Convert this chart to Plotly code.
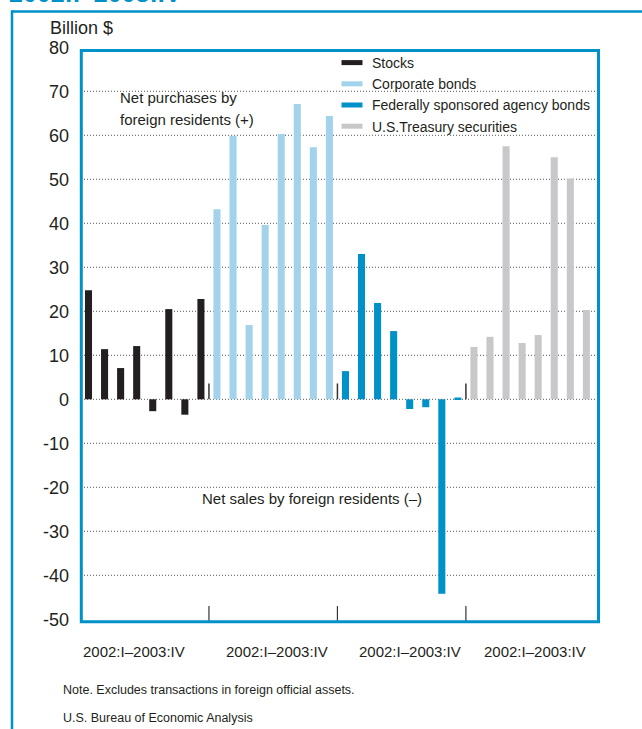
import plotly.graph_objects as go

# Quarterly net purchases of U.S. securities by foreign residents, billion $
quarters = ["2002:I", "2002:II", "2002:III", "2002:IV",
            "2003:I", "2003:II", "2003:III", "2003:IV"]
series_names = ["Stocks", "Corporate bonds",
                "Federally sponsored agency bonds", "U.S.Treasury securities"]
stocks = [24.8, 11.4, 7.1, 12.1, -2.7, 20.5, -3.5, 22.8]
corporate_bonds = [43.2, 59.9, 16.9, 39.6, 60.3, 67.1, 57.3, 64.4]
agency_bonds = [6.4, 33.0, 21.9, 15.5, -2.2, -1.8, -44.2, 0.4]
treasury = [11.9, 14.2, 57.5, 12.8, 14.6, 55.0, 50.2, 20.3]
group_label = "2002:I\u20132003:IV"
y_ticks = [-50, -40, -30, -20, -10, 0, 10, 20, 30, 40, 50, 60, 70, 80]
y_tick_text = ["-50", "-40", "-30", "-20", "-10", "0",
               "10", "20", "30", "40", "50", "60", "70", "80"]
grid_values = [-40, -30, -20, -10, 0, 10, 20, 30, 40, 50, 60, 70]

colors = ["#231f20", "#a2d3eb", "#0091c8", "#c8c8ca"]
BLUE = "#0091c8"
TEXT = "#231f20"
FONT = "Liberation Sans, Arial, sans-serif"

W_FIG, H_FIG = 642, 729
L, R, T, B = 81, 599, 45, 624
PW, PH = R - L, B - T


def px_x(p):
    return (p - L) / PW


def px_y(p):
    return (B - p) / PH


n = len(quarters)
all_series = [stocks, corporate_bonds, agency_bonds, treasury]

fig = go.Figure()
for g, (name, vals, col) in enumerate(zip(series_names, all_series, colors)):
    xs = [g * n + i for i in range(n)]
    fig.add_trace(go.Bar(
        x=xs, y=vals, width=0.44, name=name,
        marker=dict(color=col, line=dict(width=0)),
        customdata=quarters,
        hovertemplate="%{customdata}: %{y}<extra>" + name + "</extra>",
        showlegend=False,
    ))
    # legend entry drawn as a short wide swatch
    fig.add_trace(go.Scatter(
        x=[None], y=[None], mode="markers", name=name,
        marker=dict(symbol="line-ew", size=15, color=col,
                    line=dict(color=col, width=7)),
        showlegend=True, hoverinfo="skip",
    ))

shapes = []
# dotted horizontal gridlines
for v in grid_values:
    shapes.append(dict(type="line", xref="paper", yref="y", x0=0, x1=1,
                       y0=v, y1=v, layer="below",
                       line=dict(color="#555555", width=1, dash="1px,2px")))
# group separators at the zero line and at the bottom of the frame
for g in range(1, len(all_series)):
    xs = g * n - 0.5
    shapes.append(dict(type="line", xref="x", yref="y", x0=xs, x1=xs,
                       y0=0, y1=3.6, line=dict(color="#333333", width=1.5)))
    shapes.append(dict(type="line", xref="x", yref="y", x0=xs, x1=xs,
                       y0=-50.6, y1=-47.0, line=dict(color="#333333", width=1.2)))
# plot frame
shapes.append(dict(type="rect", xref="paper", yref="paper",
                   x0=px_x(81.3), x1=px_x(598.5), y0=px_y(621.8), y1=px_y(50.5),
                   line=dict(color=BLUE, width=3), fillcolor="rgba(0,0,0,0)"))
# outer panel border (top and left edges)
shapes.append(dict(type="line", xref="paper", yref="paper",
                   x0=px_x(12), x1=px_x(660), y0=px_y(11.5), y1=px_y(11.5),
                   line=dict(color=BLUE, width=2.5)))
shapes.append(dict(type="line", xref="paper", yref="paper",
                   x0=px_x(12), x1=px_x(12), y0=px_y(10.3), y1=px_y(740),
                   line=dict(color=BLUE, width=2.5)))

annotations = []
# title line running off the top edge
annotations.append(dict(text="<b>" + group_label + "</b>", xref="paper", yref="paper",
                        x=px_x(7), y=px_y(9.5), xanchor="left", yanchor="bottom",
                        showarrow=False, font=dict(size=25, color=BLUE, family=FONT)))
annotations.append(dict(text="Billion $", xref="paper", yref="paper",
                        x=px_x(48), y=px_y(27.7), xanchor="left", yanchor="middle",
                        showarrow=False, font=dict(size=18, color=TEXT, family=FONT)))
annotations.append(dict(text="Net purchases by", xref="x", yref="y",
                        x=1.84, y=68.7, xanchor="left", yanchor="middle",
                        showarrow=False, font=dict(size=15, color=TEXT, family=FONT)))
annotations.append(dict(text="foreign residents (+)", xref="x", yref="y",
                        x=1.84, y=63.7, xanchor="left", yanchor="middle",
                        showarrow=False, font=dict(size=15, color=TEXT, family=FONT)))
annotations.append(dict(text="Net sales by foreign residents (\u2013)", xref="x", yref="y",
                        x=13.89, y=-22.6, xanchor="center", yanchor="middle",
                        showarrow=False, font=dict(size=15, color=TEXT, family=FONT)))
# period label under each group
label_offsets = [-0.67, 0.24, 0.52, 0.33]
for g, off in enumerate(label_offsets):
    annotations.append(dict(text=group_label, xref="x", yref="paper",
                            x=g * n + (n - 1) / 2 + off, y=px_y(651),
                            xanchor="center", yanchor="middle", showarrow=False,
                            font=dict(size=15, color=TEXT, family=FONT)))
annotations.append(dict(text="Note. Excludes transactions in foreign official assets.",
                        xref="paper", yref="paper", x=px_x(61), y=px_y(690),
                        xanchor="left", yanchor="middle", showarrow=False,
                        font=dict(size=12.5, color=TEXT, family=FONT)))
annotations.append(dict(text="U.S. Bureau of Economic Analysis",
                        xref="paper", yref="paper", x=px_x(61), y=px_y(718),
                        xanchor="left", yanchor="middle", showarrow=False,
                        font=dict(size=12.5, color=TEXT, family=FONT)))

y_top = 80 + (47.3 - T) / 4.4
y_bot = -50 - (B - 619.3) / 4.4
x_left = (L - 88.5) / 16.06
x_right = (R - 88.5) / 16.06

fig.update_layout(
    width=W_FIG, height=H_FIG,
    margin=dict(l=L, r=W_FIG - R, t=T, b=H_FIG - B, pad=0),
    paper_bgcolor="white", plot_bgcolor="white",
    font=dict(family=FONT, color=TEXT),
    barmode="overlay",
    xaxis=dict(range=[x_left, x_right], showgrid=False, zeroline=False,
               showline=False, showticklabels=False, ticks="", fixedrange=True),
    yaxis=dict(range=[y_bot, y_top], tickvals=y_ticks, ticktext=y_tick_text,
               showgrid=False, zeroline=False, showline=False, ticks="",
               ticklabelstandoff=11,
               tickfont=dict(size=18, color=TEXT, family=FONT), fixedrange=True),
    legend=dict(x=px_x(332), y=px_y(47), xanchor="left", yanchor="top",
                bgcolor="rgba(0,0,0,0)", borderwidth=0,
                font=dict(size=14, color=TEXT, family=FONT),
                tracegroupgap=0, itemclick=False, itemdoubleclick=False),
    shapes=shapes,
    annotations=annotations,
    showlegend=True,
)

fig.write_html("out.html")
